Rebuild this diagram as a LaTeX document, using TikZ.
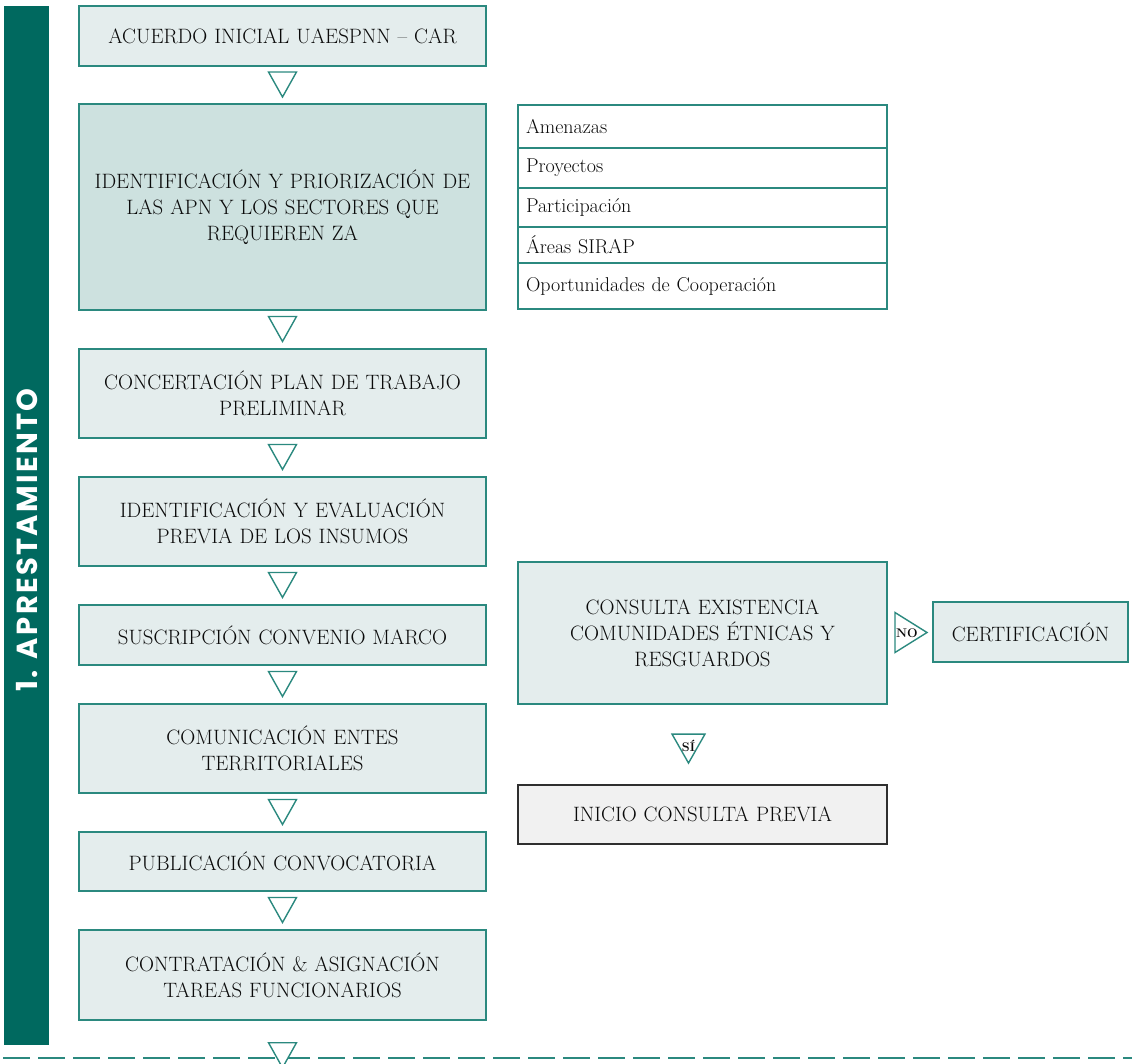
\documentclass[tikz,border=0pt]{standalone}
\usepackage{fontspec}
\newfontfamily\barfont{Poppins}[LetterSpace=8]
\usetikzlibrary{calc}
\definecolor{barcol}{HTML}{00695F}
\definecolor{edge}{HTML}{2B897F}
\definecolor{fillA}{HTML}{E4EDED}
\definecolor{fillB}{HTML}{CDE1DF}
\definecolor{grayfill}{HTML}{F1F1F1}
\definecolor{ink}{HTML}{0A0A0A}
\begin{document}
\begin{tikzpicture}[x=1pt,y=-1pt,
  box/.style={draw=edge, line width=1.4pt, fill=fillA, inner sep=0pt, align=center,
    text width=395pt, minimum width=407pt, text=ink, font=\fontsize{20.8}{26}\selectfont},
  rbox/.style={box, text width=360pt, minimum width=369pt},
  listrow/.style={draw=edge, line width=1.2pt, fill=white, inner xsep=8pt, inner ysep=0pt,
    align=left, text width=353pt, text=ink, font=\fontsize{20}{22}\selectfont},
  tri/.style={draw=edge, line width=1.4pt, fill=white, line join=miter},
  tlbl/.style={inner sep=0pt, text=ink, font=\fontsize{12.5}{12.5}\selectfont\bfseries},
  downtri/.pic={\draw[tri] (-14,-12.5) -- (14,-12.5) -- (0,12.5) -- cycle;}
]
\useasboundingbox (0,0) rectangle (1132,1063);

% side bar
\node[fill=barcol, minimum width=45pt, minimum height=1039pt, inner sep=0pt, anchor=north west] (bar) at (4,6) {};
\node[rotate=90, text=white, inner sep=0pt, font=\barfont\bfseries\fontsize{29}{29}\selectfont] (title) at (27,540) {1. APRESTAMIENTO};

% main column
\node[box, minimum height=60pt] (b1) at (282.5,36) {ACUERDO INICIAL UAESPNN -- CAR};
\node[box, fill=fillB, minimum height=206pt] (b2) at (282.5,207) {IDENTIFICACIÓN Y PRIORIZACIÓN DE\\LAS APN Y LOS SECTORES QUE\\REQUIEREN ZA};
\node[box, minimum height=89pt] (b3) at (282.5,393.5) {CONCERTACIÓN PLAN DE TRABAJO\\PRELIMINAR};
\node[box, minimum height=89pt] (b4) at (282.5,521.5) {IDENTIFICACIÓN Y EVALUACIÓN\\PREVIA DE LOS INSUMOS};
\node[box, minimum height=60pt] (b5) at (282.5,635) {SUSCRIPCIÓN CONVENIO MARCO};
\node[box, minimum height=89pt] (b6) at (282.5,748.5) {COMUNICACIÓN ENTES\\TERRITORIALES};
\node[box, minimum height=59pt] (b7) at (282.5,861.5) {PUBLICACIÓN CONVOCATORIA};
\node[box, minimum height=90pt] (b8) at (282.5,975) {CONTRATACIÓN \& ASIGNACIÓN\\TAREAS FUNCIONARIOS};

% triangles between main boxes
\foreach \a/\b/\n in {b1/b2/1, b2/b3/2, b3/b4/3, b4/b5/4, b5/b6/5, b6/b7/6, b7/b8/7}{
  \path (\a.south) -- (\b.north) coordinate[pos=0.5] (t\n);
  \pic at ($(t\n)+(0,-0.5)$) {downtri};
}

% bottom separator and last triangle
\coordinate (dl) at (3,1058);
\coordinate (dr) at (1132,1058);
\draw[edge, line width=2pt, dash pattern=on 27pt off 8pt] (dl) -- (dr);
\pic at ($(b8.south)+(0,34.5)$) {downtri};

% list
\node[listrow, minimum height=43pt] (r1) at (702.5,126.5) {Amenazas};
\node[listrow, minimum height=40pt] (r2) at (702.5,168) {Proyectos};
\node[listrow, minimum height=39pt] (r3) at (702.5,207.5) {Participación};
\node[listrow, minimum height=36pt] (r4) at (702.5,245) {Áreas SIRAP};
\node[listrow, minimum height=46pt] (r5) at (702.5,286) {Oportunidades de Cooperación};

% consulta branch
\node[rbox, minimum height=142pt] (cons) at (702.5,633) {CONSULTA EXISTENCIA\\COMUNIDADES ÉTNICAS Y\\RESGUARDOS};
\node[box, text width=188pt, minimum width=195pt, minimum height=60pt] (cert) at (1030.5,632) {CERTIFICACIÓN};
\node[rbox, fill=grayfill, draw=ink!85, line width=1.2pt, minimum height=59pt] (ini) at (702.5,814.5) {INICIO CONSULTA PREVIA};

% NO marker
\path (cons.east) -- (cert.west) coordinate[pos=0.5] (nom);
\draw[tri] ($(nom)+(-15,-20)$) -- ($(nom)+(17,0)$) -- ($(nom)+(-15,20)$) -- cycle;
\node[tlbl] (no) at ($(nom)+(-3,1)$) {NO};

% SI marker
\coordinate (sim) at ($(cons.south)!0.5!(ini.north)+(-14,4)$);
\draw[tri] ($(sim)+(-16.5,-14.5)$) -- ($(sim)+(16.5,-14.5)$) -- ($(sim)+(0,14.5)$) -- cycle;
\node[tlbl] (si) at ($(sim)+(0,-3)$) {SÍ};
\end{tikzpicture}
\end{document}
